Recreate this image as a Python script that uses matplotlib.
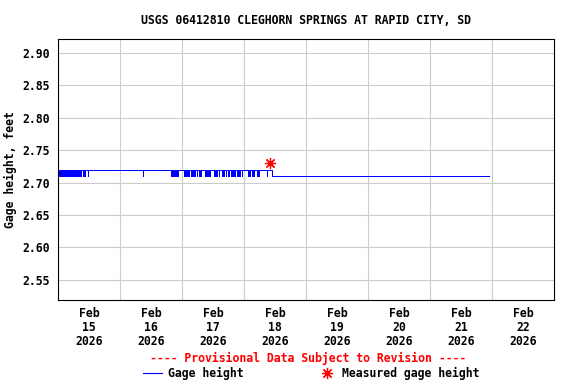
import matplotlib
matplotlib.use('Agg')
import matplotlib.pyplot as plt
from matplotlib.lines import Line2D

plt.rcParams['font.family'] = 'DejaVu Sans Mono'
plt.rcParams['font.weight'] = 'bold'
plt.rcParams['axes.labelweight'] = 'bold'
fs = 8.3

title = 'USGS 06412810 CLEGHORN SPRINGS AT RAPID CITY, SD'
day_labels = ['Feb\n15\n2026', 'Feb\n16\n2026', 'Feb\n17\n2026', 'Feb\n18\n2026',
              'Feb\n19\n2026', 'Feb\n20\n2026', 'Feb\n21\n2026', 'Feb\n22\n2026']
y_ticks = [2.55, 2.60, 2.65, 2.70, 2.75, 2.80, 2.85, 2.90]

# hours since Feb 15 00:00
high_level = 2.72
low_level = 2.71
dips = [7.75, 8.5, 9.7, 10.0, 11.4, 32.8, 48.8, 49.3, 49.9, 50.6, 51.25, 51.9,
        53.6, 54.6, 55.2, 56.8, 57.4, 58.1, 58.7, 60.4, 60.7, 61.3, 62.2, 63.25,
        63.9, 64.8, 65.6, 66.1, 66.9, 67.75, 68.4, 69.1, 69.7, 70.3, 71.0, 73.5,
        74.2, 74.9, 75.5, 76.8, 77.4, 80.7]
dense_blocks = [(0.0, 7.2), (43.6, 46.5), (52.2, 52.9)]
drop_hour = 82.6
end_hour = 166.7
meas_hour = [82.0]
meas_value = [2.73]

# step series from the read values
xs = [0.0]
ys = [high_level]
for t in dips:
    xs += [t, t + 0.2]
    ys += [low_level, high_level]
xs += [drop_hour, end_hour]
ys += [low_level, low_level]

fig = plt.figure(figsize=(5.76, 3.84), dpi=100)
ax = fig.add_axes([0.1012, 0.2187, 0.8606, 0.679])

ax.plot(xs, ys, color='#0000ff', lw=0.72, drawstyle='steps-post', antialiased=False)
for a, b in dense_blocks:
    ax.fill_between([a, b], low_level, high_level, color='#0000ff', lw=0.72,
                    step='post', antialiased=False)
ax.plot(meas_hour, meas_value, ls='none', marker=(8, 2, 0), ms=8, mec='red', mew=0.9)

ax.set_xlim(0, 192)
ax.set_ylim(2.519, 2.921)
ax.set_xticks([24 * i for i in range(1, 8)])
ax.set_xticklabels([])
ax.set_xticks([12 + 24 * i for i in range(8)], minor=True)
ax.set_xticklabels(day_labels, minor=True, fontsize=fs, linespacing=1.1, fontweight='bold')
ax.set_yticks(y_ticks)
ax.set_yticklabels(['%.2f' % v for v in y_ticks], fontsize=fs, fontweight='bold')
ax.tick_params(axis='both', which='both', length=0)
ax.tick_params(axis='x', which='minor', pad=5)
ax.tick_params(axis='y', pad=6)
ax.grid(True, which='major', color='#cccccc', lw=0.8)
ax.set_axisbelow(True)
for s in ax.spines.values():
    s.set_linewidth(0.8)

ax.set_ylabel('Gage height, feet', fontsize=fs, fontweight='bold', labelpad=4)
fig.text(0.531, 1 - 20 / 384, title, ha='center', va='center', fontsize=fs,
         fontweight='bold')
fig.text(0.535, 1 - 358 / 384, '---- Provisional Data Subject to Revision ----',
         ha='center', va='center', fontsize=fs, color='red', fontweight='bold')

handles = [Line2D([], [], color='#0000ff', lw=0.8),
           Line2D([], [], ls='none', marker=(8, 2, 0), ms=8, mec='red', mew=0.9)]
fig.legend(handles, ['Gage height', 'Measured gage height'], loc='center',
           bbox_to_anchor=(0.541, 1 - 373 / 384), ncol=2, frameon=False,
           prop={'size': fs, 'weight': 'bold'}, handlelength=1.6, handletextpad=0.5,
           columnspacing=6.5, borderpad=0, borderaxespad=0)

fig.savefig('out.png', dpi=100)
